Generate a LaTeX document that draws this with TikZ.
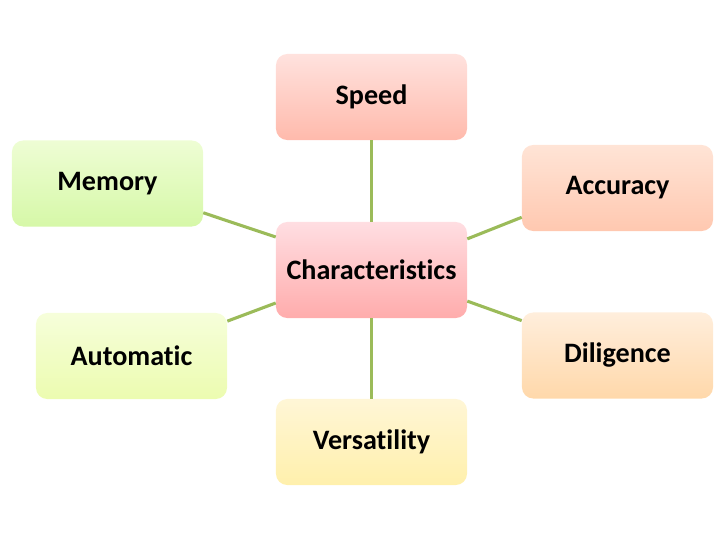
\documentclass[tikz,border=0pt]{standalone}
\usepackage{fontspec}
\setmainfont[Ligatures=NoCommon]{Carlito}
\usepackage{tikz}

\definecolor{linkgreen}{RGB}{155,187,89}

\begin{document}
\begin{tikzpicture}[x=0.025cm, y=-0.025cm,
  every node/.style={rounded corners=8pt, minimum width=4.775cm, minimum height=2.15cm,
    font=\fontsize{20}{24}\selectfont\bfseries, inner sep=0pt},
  link/.style={draw=linkgreen, line width=2.2pt}]
  \useasboundingbox (0,0) rectangle (720,540);
  \node (speed) [top color={rgb,255:red,255;green,226;blue,222}, bottom color={rgb,255:red,255;green,186;blue,172}] at (371.5, 97) {Speed};
  \node (memory) [top color={rgb,255:red,238;green,253;blue,212}, bottom color={rgb,255:red,214;green,248;blue,168}] at (107.5, 183.5) {Memory};
  \node (accuracy) [top color={rgb,255:red,255;green,228;blue,214}, bottom color={rgb,255:red,255;green,200;blue,176}] at (617.5, 188) {Accuracy};
  \node (char) [minimum height=2.4cm, top color={rgb,255:red,255;green,222;blue,226}, bottom color={rgb,255:red,255;green,172;blue,172}] at (371.5, 270) {Characteristics};
  \node (automatic) [top color={rgb,255:red,246;green,254;blue,218}, bottom color={rgb,255:red,236;green,252;blue,176}] at (131.5, 356) {Automatic};
  \node (diligence) [top color={rgb,255:red,255;green,238;blue,220}, bottom color={rgb,255:red,255;green,216;blue,170}] at (617.5, 355.5) {Diligence};
  \node (versatility) [top color={rgb,255:red,255;green,246;blue,214}, bottom color={rgb,255:red,255;green,240;blue,172}] at (371.5, 442) {Versatility};
  \draw[link] (speed) -- (char);
  \draw[link] (char) -- (versatility);
  \draw[link] (memory.-17) -- (char.161.5);
  \draw[link] (accuracy.-163) -- (char.18.5);
  \draw[link] (automatic.20.7) -- (char.-161.5);
  \draw[link] (diligence.160.7) -- (char.-18.5);
\end{tikzpicture}
\end{document}
